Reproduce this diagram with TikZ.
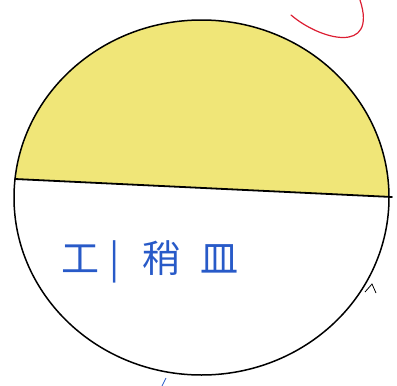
\documentclass[tikz,border=0pt]{standalone}
\usepackage{fontspec}
\newfontfamily\cjk{Noto Sans CJK JP}
\usetikzlibrary{positioning}
\definecolor{pencil}{RGB}{240,230,120}
\definecolor{ink}{RGB}{40,90,200}
\definecolor{redink}{RGB}{220,30,50}
\tikzstyle{hand}=[line width=1.5pt,line cap=round,line join=round]
\begin{document}
\begin{tikzpicture}[x=1pt,y=-1pt]
\useasboundingbox (0,0) rectangle (397,386);
\coordinate (ctr) at (201.5,197.5);
\coordinate (chordL) at (15,179);
\coordinate (chordR) at (392,197);
% shaded half
\begin{scope}
\clip (ctr) ellipse [x radius=187.5,y radius=177.5];
\fill [pencil] (chordL) -- (chordR) -- (400,0) -- (0,0) -- cycle;
\end{scope}
\draw [hand] (ctr) ellipse [x radius=187.5,y radius=177.5];
\draw [hand,line width=1.8pt] (chordL) -- (chordR);
% text
\node [text=ink,font=\cjk\fontsize{38}{38}\selectfont] (label) at (150,262) {工\hspace{10pt}|\hspace{22pt}稍\hspace{20pt}皿};
% marks
\coordinate (r1) at (291,15);
\coordinate (r2) at (360,0);
\draw [redink,line width=1.2pt,line cap=round] (r1) .. controls (320,40) and (378,55) .. (r2);
\coordinate (t1) at (365,292);
\coordinate (t2) at (372,284);
\coordinate (t3) at (376,293);
\draw [line width=0.8pt] (t1) -- (t2) -- (t3);
\coordinate (b1) at (162,386);
\coordinate (b2) at (166,378);
\draw [ink,line width=0.8pt] (b1) -- (b2);
\end{tikzpicture}
\end{document}
